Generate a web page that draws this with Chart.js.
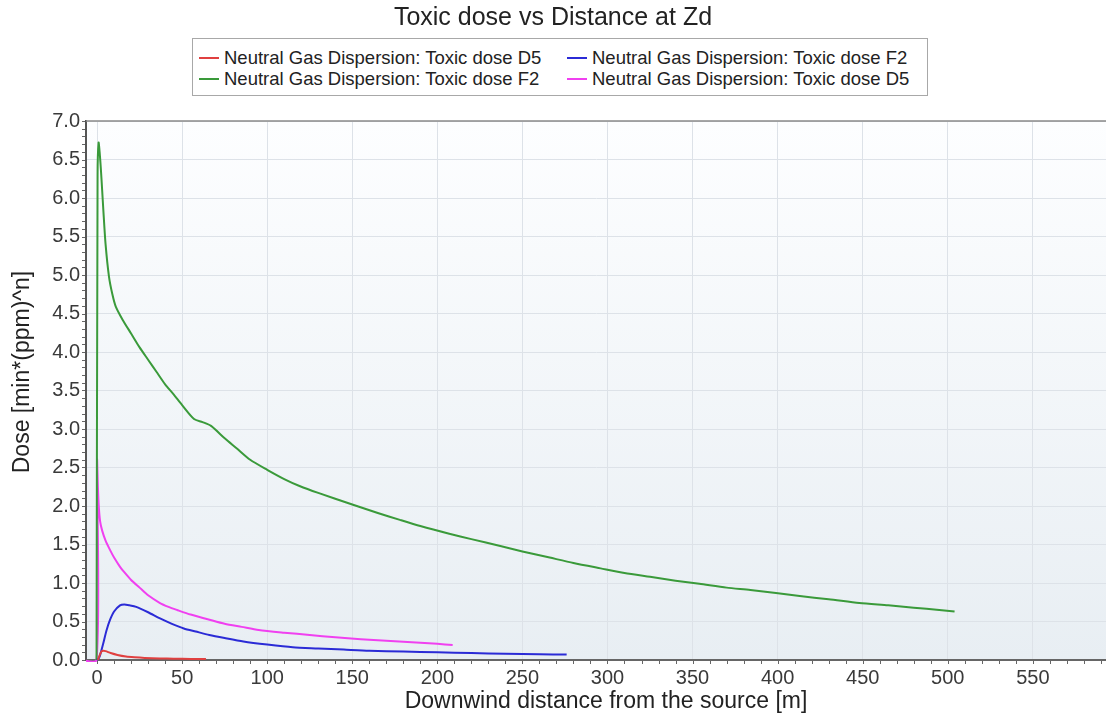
<!DOCTYPE html>
<html>
<head>
<meta charset="utf-8">
<script src="https://cdn.jsdelivr.net/npm/chart.js@4.4.1/dist/chart.umd.min.js"></script>
<style>
  body { margin: 0; background: #fff; }
  #wrap { position: relative; width: 1106px; height: 715px; }
  #leyenda {
    position: absolute; left: 192px; top: 38px; width: 734px; height: 56px;
    border: 1px solid #a8a8a8; background: #fff;
    font-family: "Liberation Sans", Arial, sans-serif; font-size: 18.5px; color: #222;
  }
  #leyenda .item { position: absolute; height: 22px; line-height: 22px; white-space: nowrap; }
  #leyenda .linea { display: inline-block; width: 20px; height: 2px; vertical-align: middle; margin-right: 5px; position: relative; top: -1px; }
</style>
</head>
<body>
<div id="wrap">
  <canvas id="grafico" width="1106" height="715"></canvas>
  <div id="leyenda"></div>
</div>
<script>
// datos
const nombres = [
  "Neutral Gas Dispersion: Toxic dose D5",
  "Neutral Gas Dispersion: Toxic dose F2",
  "Neutral Gas Dispersion: Toxic dose F2",
  "Neutral Gas Dispersion: Toxic dose D5"
];

// rojo - D5
const xRojo = [0.5, 1.5, 2.5, 3.7, 5, 8, 12, 17, 22, 28, 37, 45, 55, 64];
const yRojo = [0, 0.06, 0.11, 0.12, 0.115, 0.09, 0.065, 0.045, 0.035, 0.027, 0.02, 0.017, 0.014, 0.012];

// azul - F2
const xAzul = [0, 1, 2, 3.7, 5.5, 7.6, 10, 13.5, 16, 19, 23, 30, 37, 44, 51, 58, 66, 75, 86, 100, 115, 130, 145, 160, 180, 200, 220, 240, 260, 276];
const yAzul = [0, 0.02, 0.08, 0.22, 0.38, 0.52, 0.63, 0.71, 0.72, 0.71, 0.69, 0.62, 0.54, 0.47, 0.41, 0.37, 0.325, 0.285, 0.24, 0.2, 0.165, 0.15, 0.135, 0.12, 0.11, 0.1, 0.09, 0.08, 0.075, 0.07];

// verde - F2
const xVerde = [-0.3, 0.3, 0.9, 1.5, 2.2, 3, 3.7, 5, 7, 9, 11, 15, 20, 25, 30, 35, 40, 45, 50, 57, 62, 67, 75, 82, 90, 100, 110, 119, 130, 150, 165, 178, 190, 207, 220, 237, 250, 266, 280, 296, 310, 325, 340, 354, 370, 384, 399, 413, 430, 448, 465, 480, 495, 504];
const yVerde = [0, 6.3, 6.72, 6.6, 6.39, 6.1, 5.84, 5.4, 4.98, 4.75, 4.59, 4.42, 4.24, 4.06, 3.9, 3.74, 3.58, 3.45, 3.31, 3.13, 3.09, 3.04, 2.88, 2.75, 2.6, 2.47, 2.35, 2.26, 2.17, 2.02, 1.91, 1.82, 1.74, 1.64, 1.57, 1.48, 1.41, 1.33, 1.26, 1.19, 1.13, 1.08, 1.03, 0.99, 0.94, 0.91, 0.87, 0.83, 0.79, 0.74, 0.71, 0.68, 0.65, 0.63];

// magenta - D5
const xMagenta = [-10, -0.3, 0, 0.5, 1, 1.8, 3, 5, 7.6, 10, 13.5, 16, 20, 25, 30, 37, 42, 47, 55, 65, 75, 85, 95, 110, 125, 140, 155, 170, 185, 200, 209];
const yMagenta = [0, 0, 2.6, 2.25, 2.0, 1.8, 1.68, 1.55, 1.43, 1.33, 1.21, 1.14, 1.04, 0.94, 0.84, 0.74, 0.69, 0.65, 0.59, 0.53, 0.47, 0.43, 0.39, 0.355, 0.325, 0.295, 0.27, 0.25, 0.23, 0.21, 0.195];

const ticksX = [0, 50, 100, 150, 200, 250, 300, 350, 400, 450, 500, 550];
const ticksY = [0, 0.5, 1, 1.5, 2, 2.5, 3, 3.5, 4, 4.5, 5, 5.5, 6, 6.5, 7];

const tituloX = "Downwind distance from the source [m]";
const tituloY = "Dose [min*(ppm)^n]";

const colores = ["#e04040", "#2b2bd6", "#3a9a3a", "#f040f0"];

function puntos(xs, ys) {
  return xs.map((x, i) => ({ x: x, y: ys[i] }));
}

const fuente = '"Liberation Sans", Arial, sans-serif';
Chart.defaults.font.family = fuente;
Chart.defaults.color = "#333";

// fondo degradado, borde superior, ticks menores y titulos de ejes
const fondo = {
  id: "fondo",
  beforeDraw(chart) {
    const { ctx, chartArea: a } = chart;
    const g = ctx.createLinearGradient(0, a.top, 0, a.bottom);
    g.addColorStop(0, "#fdfeff");
    g.addColorStop(1, "#e8eef3");
    ctx.save();
    ctx.fillStyle = g;
    ctx.fillRect(a.left, a.top, a.right - a.left, a.bottom - a.top);
    ctx.restore();
  },
  afterDraw(chart) {
    const { ctx, chartArea: a, scales } = chart;
    ctx.save();
    ctx.strokeStyle = "#8a8a8a";
    ctx.lineWidth = 1.5;
    ctx.beginPath();
    ctx.moveTo(a.left, a.top);
    ctx.lineTo(a.right, a.top);
    ctx.stroke();
    // ticks menores
    ctx.strokeStyle = "#666";
    ctx.lineWidth = 1;
    ctx.beginPath();
    for (let v = 0; v <= 7.001; v += 0.1) {
      const y = Math.round(scales.y.getPixelForValue(v)) + 0.5;
      ctx.moveTo(a.left - 4, y);
      ctx.lineTo(a.left - 1, y);
    }
    for (let v = 0; v <= 590; v += 10) {
      const x = Math.round(scales.x.getPixelForValue(v)) + 0.5;
      ctx.moveTo(x, a.bottom + 1);
      ctx.lineTo(x, a.bottom + 4);
    }
    ctx.stroke();
    // titulos de los ejes
    ctx.fillStyle = "#222";
    ctx.font = "23px " + fuente;
    ctx.textAlign = "center";
    ctx.textBaseline = "middle";
    ctx.fillText(tituloX, 606, 702);
    ctx.translate(23, 372);
    ctx.rotate(-Math.PI / 2);
    ctx.fillText(tituloY, 0, 0);
    ctx.restore();
  }
};

const series = [
  [xRojo, yRojo],
  [xAzul, yAzul],
  [xVerde, yVerde],
  [xMagenta, yMagenta]
];

const grafico = new Chart(document.getElementById("grafico"), {
  type: "line",
  data: {
    datasets: series.map((s, i) => ({
      label: nombres[i],
      data: puntos(s[0], s[1]),
      borderColor: colores[i],
      backgroundColor: colores[i],
      borderWidth: 2,
      pointRadius: 0,
      tension: 0.25,
      fill: false,
      clip: { left: 0, top: 2, right: 0, bottom: 2 }
    }))
  },
  options: {
    responsive: false,
    animation: false,
    layout: { padding: 0 },
    plugins: {
      legend: { display: false },
      tooltip: { enabled: false },
      title: {
        display: true,
        text: "Toxic dose vs Distance at Zd",
        color: "#222",
        font: { size: 25, weight: "normal" },
        padding: { top: 3, bottom: 88 }
      }
    },
    scales: {
      x: {
        type: "linear",
        min: -6.5,
        max: 593,
        afterBuildTicks: (scale) => { scale.ticks = ticksX.map(v => ({ value: v })); },
        afterFit: (scale) => { scale.height = 55; },
        ticks: { font: { size: 20 }, color: "#3a3a3a", padding: 6 },
        grid: { color: "#dde2e8", drawTicks: false },
        border: { color: "#666", width: 2 }
      },
      y: {
        min: 0,
        max: 7,
        afterBuildTicks: (scale) => { scale.ticks = ticksY.map(v => ({ value: v })); },
        afterFit: (scale) => { scale.width = 86; },
        ticks: {
          font: { size: 20 },
          color: "#3a3a3a",
          padding: 6,
          callback: (v) => Number(v).toFixed(1)
        },
        grid: { color: "#dde2e8", drawTicks: false },
        border: { color: "#555", width: 2 }
      }
    }
  },
  plugins: [fondo]
});

// leyenda en html con el recuadro
const leyenda = document.getElementById("leyenda");
grafico.data.datasets.forEach((ds, i) => {
  const item = document.createElement("div");
  item.className = "item";
  item.style.left = (6 + (i % 2) * 368) + "px";
  item.style.top = (8 + Math.floor(i / 2) * 21) + "px";
  item.innerHTML = '<span class="linea" style="background:' + ds.borderColor + '"></span>' + ds.label;
  leyenda.appendChild(item);
});
</script>
</body>
</html>
